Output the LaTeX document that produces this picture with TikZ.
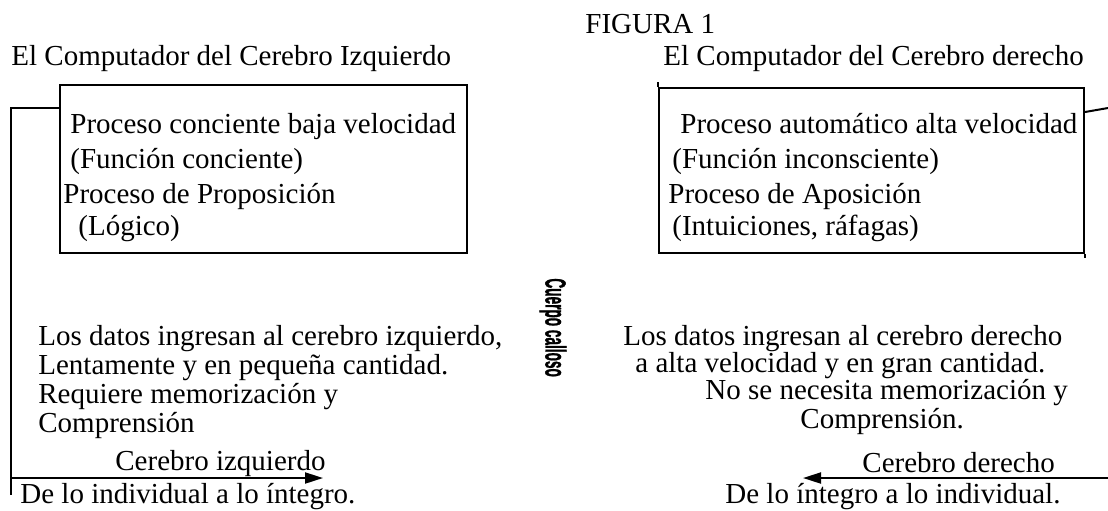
\documentclass[tikz,border=0pt]{standalone}
\usepackage{fontspec}
\setmainfont{Liberation Serif}
\newfontfamily\ccfont[BoldFeatures={FakeBold=1.5}]{Liberation Sans}
\usetikzlibrary{arrows.meta}
\tikzset{
  txt/.style={anchor=base west, inner sep=0pt, font=\fontsize{14.5}{17}\selectfont},
  boxline/.style={draw=black, line width=1pt},
  conn/.style={draw=black, line width=1pt},
  arr/.style={conn, -{Triangle[length=9pt,width=5.5pt]}}
}
\begin{document}
\begin{tikzpicture}[x=0.5pt,y=-0.5pt]
\useasboundingbox (0,0) rectangle (1108,510);
% titles
\node[txt] (fig) at (585,33) {FIGURA 1};
\node[txt] (tl) at (11,65) {El Computador del Cerebro Izquierdo};
\node[txt] (tr) at (663,65) {El Computador del Cerebro derecho};
% boxes
\node[boxline, inner sep=0pt, minimum width=203.5pt, minimum height=84pt, anchor=north west] (lbox) at (59,84) {};
\node[boxline, inner sep=0pt, minimum width=212.5pt, minimum height=82.5pt, anchor=north west] (rbox) at (658,87) {};
\draw[boxline] (rbox.north west) -- ++(0,-5);
\draw[boxline] (rbox.south east) -- ++(0,4);
% left box text
\node[txt] (l1) at (70,133) {Proceso conciente baja velocidad};
\node[txt] (l2) at (70,168) {(Función conciente)};
\node[txt] (l3) at (63,203) {Proceso de Proposición};
\node[txt] (l4) at (78,235) {(Lógico)};
% right box text
\node[txt] (r1) at (680,133) {Proceso automático alta velocidad};
\node[txt] (r2) at (672,168) {(Función inconsciente)};
\node[txt] (r3) at (668,203) {Proceso de Aposición};
\node[txt] (r4) at (672,235) {(Intuiciones, ráfagas)};
% corpus callosum
\node[rotate=-90, anchor=west, inner sep=0pt, font=\ccfont\bfseries\fontsize{14.5}{16}\selectfont] (cc) at (553,278) {\scalebox{0.47}[1]{Cuerpo calloso}};
% left middle text
\node[txt] (lm1) at (38,345) {Los datos ingresan al cerebro izquierdo,};
\node[txt] (lm2) at (38,374) {Lentamente y en pequeña cantidad.};
\node[txt] (lm3) at (38,403) {Requiere memorización y};
\node[txt] (lm4) at (38,432) {Comprensión};
\node[txt] (lci) at (115,470) {Cerebro izquierdo};
\node[txt] (lb) at (20,503) {De lo individual a lo íntegro.};
% right middle text
\node[txt] (rm1) at (623,345) {Los datos ingresan al cerebro derecho};
\node[txt] (rm2) at (635,372) {a alta velocidad y en gran cantidad.};
\node[txt] (rm3) at (705,399) {No se necesita memorización y};
\node[txt] (rm4) at (800,428) {Comprensión.};
\node[txt] (rcd) at (862,472) {Cerebro derecho};
\node[txt] (rb) at (725,503) {De lo íntegro a lo individual.};
% left connector
\coordinate (lc1) at (11,108);
\coordinate (lc2) at (11,478);
\coordinate (lc3) at (11,495);
\coordinate (lt) at (323,478);
\draw[conn] (lbox.west |- lc1) -- (lc1) -- (lc3);
\draw[arr] (lc2) -- (lt);
% right connector
\coordinate (rc1) at (1108,108);
\coordinate (rc2) at (1108,478);
\coordinate (rt) at (803,478);
\draw[conn] (rbox.east |- 0,112) -- (rc1);
\draw[arr] (rc2) -- (rt);
\end{tikzpicture}
\end{document}
